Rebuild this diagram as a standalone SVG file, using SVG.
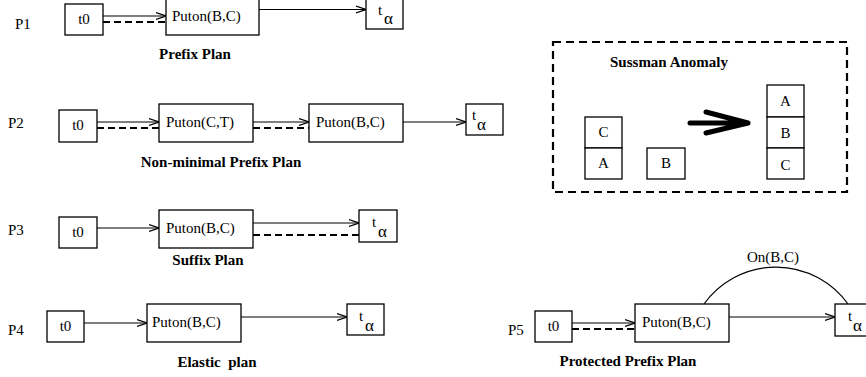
<svg xmlns="http://www.w3.org/2000/svg" width="866" height="377" viewBox="0 0 866 377">
<defs>
<style>
text{font-family:"Liberation Serif","Times New Roman",serif;font-size:15px;fill:#000}
.b{font-weight:bold}
.al{font-size:17px}
.box{fill:#fff;stroke:#000;stroke-width:1.3}
.arr{fill:none;stroke:#000;stroke-width:1.2;marker-end:url(#ah)}
.dash{fill:none;stroke:#000;stroke-width:2.2;stroke-dasharray:7,4}
</style>
<marker id="ah" viewBox="0 0 10 10" refX="10" refY="5" markerWidth="10" markerHeight="10" markerUnits="userSpaceOnUse" orient="auto">
<path d="M0,1.5 L10,5 L0,8.5" fill="none" stroke="#000" stroke-width="1.2"/>
</marker>
</defs>
<rect width="866" height="377" fill="#fff"/>

<g id="connectors">
<line class="arr" x1="103" y1="16" x2="166" y2="16"/>
<line class="dash" x1="103" y1="22" x2="166" y2="22"/>
<line class="arr" x1="259" y1="9.5" x2="366" y2="9.5"/>
<line class="arr" x1="97" y1="122" x2="159" y2="122"/>
<line class="dash" x1="97" y1="128" x2="159" y2="128"/>
<line class="arr" x1="253" y1="122" x2="309" y2="122"/>
<line class="dash" x1="253" y1="128" x2="309" y2="128"/>
<line class="arr" x1="403" y1="122" x2="466" y2="122"/>
<line class="arr" x1="97" y1="228" x2="159" y2="228"/>
<line class="arr" x1="253" y1="223" x2="359" y2="223"/>
<line class="dash" x1="253" y1="235" x2="359" y2="235"/>
<line class="arr" x1="84" y1="323" x2="147" y2="323"/>
<line class="arr" x1="241" y1="317" x2="347" y2="317"/>
<line class="arr" x1="572" y1="323" x2="635" y2="323"/>
<line class="dash" x1="572" y1="329" x2="635" y2="329"/>
<line class="arr" x1="729" y1="317" x2="835" y2="317"/>
<path d="M704,304 A88.6,88.6 0 0 1 848,304" fill="none" stroke="#000" stroke-width="1.2"/>
<text x="773" y="262" text-anchor="middle">On(B,C)</text>
</g>

<text x="15" y="29">P1</text>
<text x="8" y="128">P2</text>
<text x="8" y="235">P3</text>
<text x="8" y="335">P4</text>
<text x="508" y="335">P5</text>
<text class="b" x="195" y="59" text-anchor="middle">Prefix Plan</text>
<text class="b" x="221" y="167" text-anchor="middle">Non-minimal Prefix Plan</text>
<text class="b" x="208" y="265" text-anchor="middle">Suffix Plan</text>
<text class="b" x="217" y="367" text-anchor="middle" xml:space="preserve">Elastic  plan</text>
<text class="b" x="628" y="366" text-anchor="middle">Protected Prefix Plan</text>

<g id="p1-t0"><rect class="box" x="65" y="4" width="38" height="31"/><text x="84" y="24" text-anchor="middle">t0</text></g>
<g id="p1-puton"><rect class="box" x="166" y="-3" width="93" height="38"/><text x="172" y="21">Puton(B,C)</text></g>
<g id="p1-ta"><rect class="box" x="366" y="-2" width="37" height="31"/><text x="378" y="15">t</text><text class="al" x="384" y="24">α</text></g>

<g id="p2-t0"><rect class="box" x="59" y="110" width="38" height="32"/><text x="78" y="130" text-anchor="middle">t0</text></g>
<g id="p2-puton-ct"><rect class="box" x="159" y="104" width="94" height="38"/><text x="166" y="127">Puton(C,T)</text></g>
<g id="p2-puton-bc"><rect class="box" x="309" y="104" width="94" height="38"/><text x="316" y="127">Puton(B,C)</text></g>
<g id="p2-ta"><rect class="box" x="466" y="104" width="37" height="31"/><text x="472" y="120">t</text><text class="al" x="477" y="130">α</text></g>

<g id="p3-t0"><rect class="box" x="59" y="217" width="38" height="31"/><text x="78" y="237" text-anchor="middle">t0</text></g>
<g id="p3-puton"><rect class="box" x="159" y="210" width="94" height="38"/><text x="166" y="233">Puton(B,C)</text></g>
<g id="p3-ta"><rect class="box" x="359" y="210" width="38" height="32"/><text x="372" y="227">t</text><text class="al" x="378" y="237">α</text></g>

<g id="p4-t0"><rect class="box" x="47" y="311" width="37" height="31"/><text x="65.5" y="331" text-anchor="middle">t0</text></g>
<g id="p4-puton"><rect class="box" x="147" y="304" width="94" height="38"/><text x="152" y="327">Puton(B,C)</text></g>
<g id="p4-ta"><rect class="box" x="347" y="304" width="37" height="31"/><text x="359" y="321">t</text><text class="al" x="365" y="331">α</text></g>

<g id="p5-t0"><rect class="box" x="535" y="311" width="37" height="31"/><text x="553.5" y="331" text-anchor="middle">t0</text></g>
<g id="p5-puton"><rect class="box" x="635" y="304" width="94" height="38"/><text x="642" y="327">Puton(B,C)</text></g>
<g id="p5-ta"><rect class="box" x="835" y="304" width="37" height="32"/><text x="848" y="321">t</text><text class="al" x="853" y="331">α</text></g>

<g id="sussman">
<rect x="553" y="42" width="294" height="150" fill="none" stroke="#000" stroke-width="2.2" stroke-dasharray="8,5"/>
<text class="b" x="669" y="67" text-anchor="middle">Sussman Anomaly</text>
<rect class="box" x="585" y="117" width="37" height="31"/><text x="603.5" y="137" text-anchor="middle">C</text>
<rect class="box" x="585" y="148" width="37" height="31"/><text x="603.5" y="168" text-anchor="middle">A</text>
<rect class="box" x="647" y="148" width="38" height="31"/><text x="666" y="168" text-anchor="middle">B</text>
<rect class="box" x="767" y="85" width="37" height="32"/><text x="785.5" y="106" text-anchor="middle">A</text>
<rect class="box" x="767" y="117" width="37" height="31"/><text x="785.5" y="138" text-anchor="middle">B</text>
<rect class="box" x="767" y="148" width="37" height="31"/><text x="785.5" y="170" text-anchor="middle">C</text>
<path d="M690,123 L748,123 M706,112 L748,123 L706,133" fill="none" stroke="#000" stroke-width="5" stroke-linecap="round" stroke-linejoin="round"/>
</g>
</svg>
